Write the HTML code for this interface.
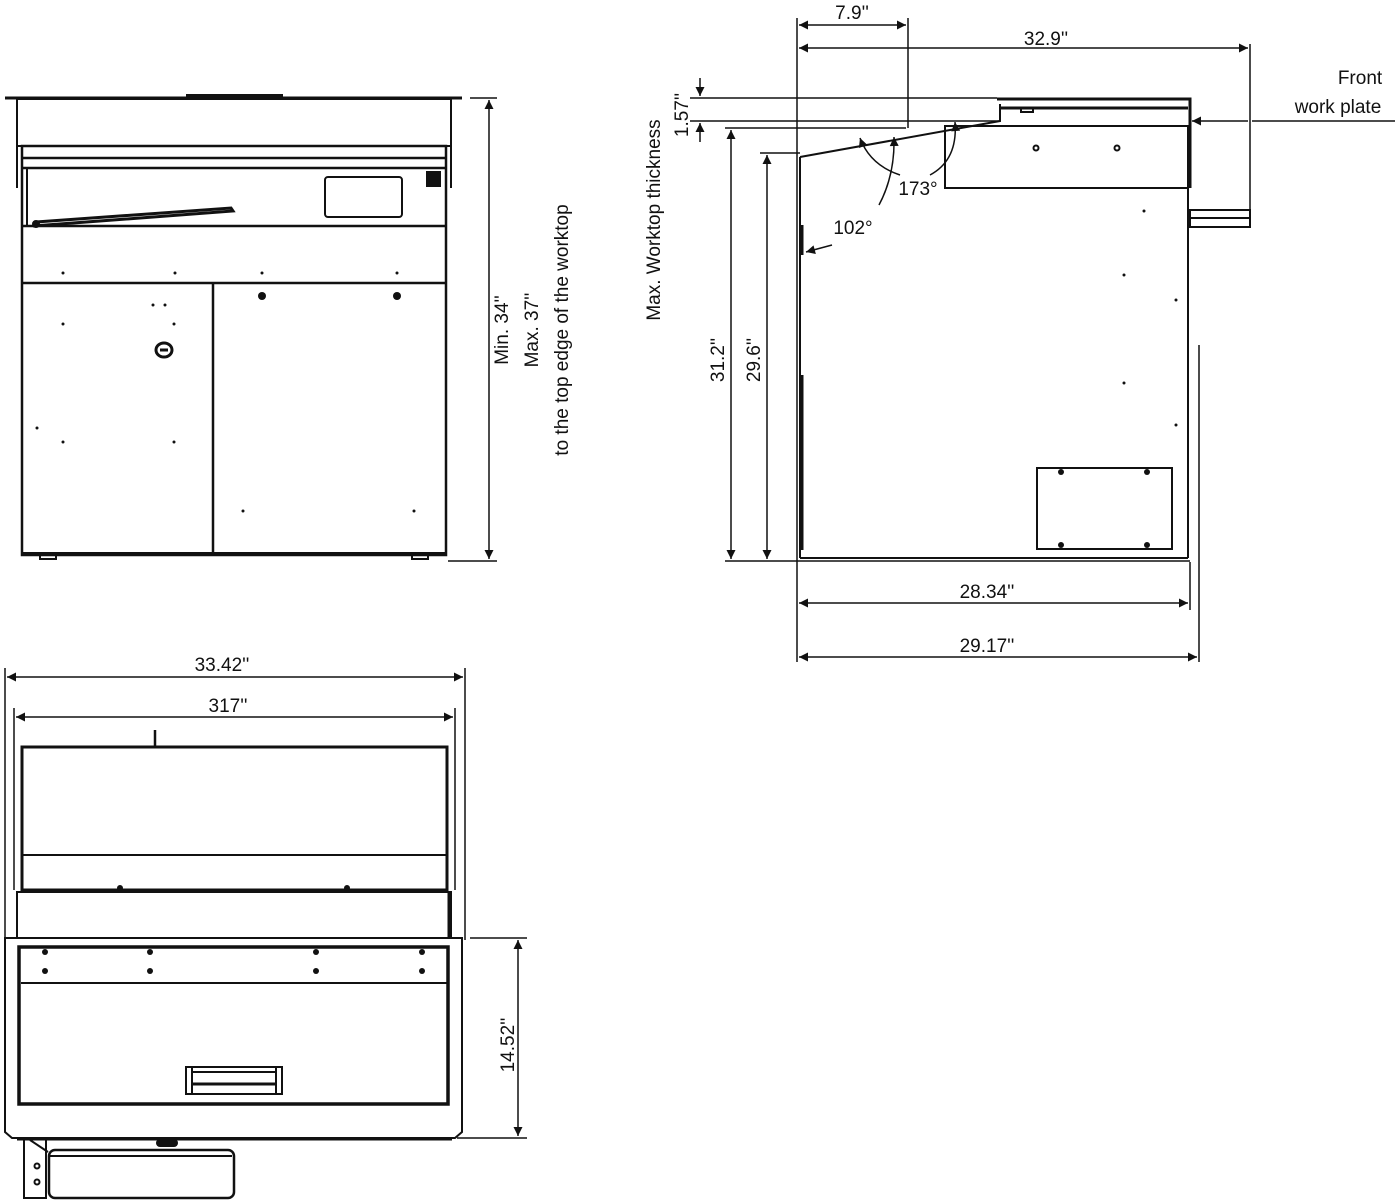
<!DOCTYPE html>
<html><head><meta charset="utf-8"><style>
html,body{margin:0;padding:0;background:#fff}
svg{display:block}
text{font-family:"Liberation Sans",sans-serif;font-size:19px;fill:#111}
</style></head><body>
<svg width="1395" height="1200" viewBox="0 0 1395 1200" xmlns="http://www.w3.org/2000/svg">
<defs>
<marker id="a" viewBox="0 0 10 10" refX="10" refY="5" markerWidth="16" markerHeight="9" markerUnits="userSpaceOnUse" orient="auto-start-reverse"><path d="M0,0 L10,5 L0,10z" fill="#111"/></marker>
</defs>
<g stroke="#111" fill="none" stroke-width="2">
<!-- FRONT VIEW -->
<line x1="5" y1="98" x2="462" y2="98" stroke-width="3"/>
<rect x="187" y="95" width="95" height="3" fill="#111"/>
<rect x="17" y="99" width="434" height="47"/>
<line x1="17" y1="146" x2="17" y2="188"/><line x1="451" y1="146" x2="451" y2="188"/>
<rect x="22" y="146" width="424" height="409" stroke-width="2.5"/>
<line x1="22" y1="158" x2="446" y2="158" stroke-width="2.5"/>
<line x1="22" y1="168" x2="446" y2="168" stroke-width="2.5"/>
<line x1="27" y1="168" x2="27" y2="226"/>
<rect x="325" y="177" width="77" height="40" rx="3"/>
<rect x="427" y="172" width="13" height="14" fill="#111"/>
<path d="M33,226 L233,211 L231,208 L36,222" stroke-width="3"/>
<circle cx="36" cy="224" r="3" fill="#111"/>
<line x1="22" y1="226" x2="446" y2="226" stroke-width="2.5"/>
<line x1="22" y1="283" x2="446" y2="283" stroke-width="2.5"/>
<line x1="213" y1="283" x2="213" y2="555" stroke-width="2.5"/>
<line x1="22" y1="553" x2="446" y2="553"/>
<rect x="40" y="555" width="16" height="4"/><rect x="412" y="555" width="16" height="4"/>
<line x1="470" y1="98" x2="497" y2="98" stroke-width="1.5"/>
<line x1="448" y1="561" x2="497" y2="561" stroke-width="1.5"/>
<line x1="489" y1="100" x2="489" y2="559" stroke-width="1.5" marker-start="url(#a)" marker-end="url(#a)"/>

<!-- SIDE VIEW -->
<line x1="797" y1="18" x2="797" y2="662" stroke-width="1.5"/>
<line x1="908" y1="18" x2="908" y2="128" stroke-width="1.5"/>
<line x1="1250" y1="44" x2="1250" y2="216" stroke-width="1.5"/>
<line x1="799" y1="25" x2="906" y2="25" stroke-width="1.5" marker-start="url(#a)" marker-end="url(#a)"/>
<line x1="799" y1="48" x2="1248" y2="48" stroke-width="1.5" marker-start="url(#a)" marker-end="url(#a)"/>
<line x1="690" y1="98" x2="997" y2="98" stroke-width="1.5"/>
<line x1="690" y1="121" x2="1000" y2="121" stroke-width="1.5"/>
<line x1="725" y1="128" x2="906" y2="128" stroke-width="1.5"/>
<line x1="760" y1="153" x2="800" y2="153" stroke-width="1.5"/>
<line x1="700" y1="78" x2="700" y2="96" stroke-width="1.5" marker-end="url(#a)"/>
<line x1="700" y1="142" x2="700" y2="123" stroke-width="1.5" marker-end="url(#a)"/>
<line x1="731" y1="130" x2="731" y2="559" stroke-width="1.5" marker-start="url(#a)" marker-end="url(#a)"/>
<line x1="767" y1="155" x2="767" y2="559" stroke-width="1.5" marker-start="url(#a)" marker-end="url(#a)"/>
<line x1="725" y1="561" x2="1190" y2="561" stroke-width="1.5"/>
<path d="M800,157 L1000,121 L1000,104"/>
<path d="M997,99 L1190,99 L1190,188" stroke-width="3"/>
<line x1="1000" y1="108" x2="1188" y2="108" stroke-width="3"/>
<rect x="1021" y="108" width="12" height="4"/>
<rect x="945" y="126" width="243" height="62"/>
<circle cx="1036" cy="148" r="2.5"/><circle cx="1117" cy="148" r="2.5"/>
<line x1="800" y1="157" x2="800" y2="558"/>
<line x1="802" y1="225" x2="802" y2="255" stroke-width="3"/>
<line x1="802" y1="375" x2="802" y2="550" stroke-width="3"/>
<line x1="1188" y1="188" x2="1188" y2="558"/>
<line x1="800" y1="558" x2="1188" y2="558"/>
<rect x="1190" y="210" width="60" height="17"/>
<line x1="1190" y1="218" x2="1250" y2="218"/>
<rect x="1037" y="468" width="135" height="81"/>
<line x1="1248" y1="121" x2="1192" y2="121" stroke-width="1.5" marker-end="url(#a)"/>
<line x1="1252" y1="121" x2="1395" y2="121" stroke-width="1.5"/>
<line x1="1190" y1="562" x2="1190" y2="610" stroke-width="1.5"/>
<line x1="1199" y1="345" x2="1199" y2="662" stroke-width="1.5"/>
<line x1="799" y1="603" x2="1188" y2="603" stroke-width="1.5" marker-start="url(#a)" marker-end="url(#a)"/>
<line x1="799" y1="657" x2="1197" y2="657" stroke-width="1.5" marker-start="url(#a)" marker-end="url(#a)"/>
<path d="M900,175 Q870,165 860,138" stroke-width="1.5" marker-end="url(#a)"/>
<path d="M879,205 Q895,175 894,137" stroke-width="1.5" marker-end="url(#a)"/>
<path d="M930,175 Q958,160 955,122" stroke-width="1.5" marker-end="url(#a)"/>
<line x1="832" y1="245" x2="806" y2="252" stroke-width="1.5" marker-end="url(#a)"/>

<!-- TOP VIEW -->
<line x1="5" y1="668" x2="5" y2="940" stroke-width="1.5"/>
<line x1="465" y1="668" x2="465" y2="940" stroke-width="1.5"/>
<line x1="7" y1="677" x2="463" y2="677" stroke-width="1.5" marker-start="url(#a)" marker-end="url(#a)"/>
<line x1="14" y1="708" x2="14" y2="890" stroke-width="1.5"/>
<line x1="455" y1="708" x2="455" y2="890" stroke-width="1.5"/>
<line x1="16" y1="717" x2="453" y2="717" stroke-width="1.5" marker-start="url(#a)" marker-end="url(#a)"/>
<rect x="22" y="747" width="425" height="143" stroke-width="3"/>
<line x1="22" y1="855" x2="447" y2="855"/>
<line x1="155" y1="730" x2="155" y2="746" stroke-width="2.5"/>
<rect x="17" y="892" width="434" height="46"/>
<line x1="449" y1="892" x2="449" y2="938" stroke-width="3"/>
<path d="M5,938 L462,938 L462,1132 L455,1138 L12,1138 L5,1132 Z"/>
<rect x="19" y="947" width="429" height="157" stroke-width="3.5"/>
<line x1="21" y1="983" x2="447" y2="983" stroke-width="2"/>
<rect x="186" y="1067" width="96" height="27"/>
<line x1="192" y1="1072" x2="276" y2="1072"/><line x1="192" y1="1084" x2="276" y2="1084" stroke-width="3"/>
<line x1="192" y1="1067" x2="192" y2="1094"/><line x1="276" y1="1067" x2="276" y2="1094"/>
<line x1="17" y1="1139" x2="452" y2="1139" stroke-width="3"/>
<line x1="470" y1="938" x2="527" y2="938" stroke-width="1.5"/>
<line x1="457" y1="1138" x2="527" y2="1138" stroke-width="1.5"/>
<line x1="518" y1="940" x2="518" y2="1136" stroke-width="1.5" marker-start="url(#a)" marker-end="url(#a)"/>
<rect x="157" y="1140" width="20" height="6" rx="3" fill="#111"/>
<rect x="24" y="1139" width="22" height="59"/>
<path d="M30,1140 L48,1152"/>
<rect x="49" y="1150" width="185" height="48" rx="6" stroke-width="2.5"/>
<line x1="50" y1="1156" x2="232" y2="1156"/>
<circle cx="37" cy="1166" r="2.5"/><circle cx="37" cy="1182" r="2.5"/>
</g>
<g fill="#111">
<circle cx="63" cy="273" r="1.5"/><circle cx="175" cy="273" r="1.5"/><circle cx="262" cy="273" r="1.5"/><circle cx="397" cy="273" r="1.5"/>
<circle cx="262" cy="296" r="4"/><circle cx="397" cy="296" r="4"/>
<circle cx="153" cy="305" r="1.5"/><circle cx="165" cy="305" r="1.5"/>
<circle cx="63" cy="324" r="1.5"/><circle cx="174" cy="324" r="1.5"/>
<circle cx="37" cy="428" r="1.5"/><circle cx="63" cy="442" r="1.5"/><circle cx="174" cy="442" r="1.5"/>
<circle cx="243" cy="511" r="1.5"/><circle cx="414" cy="511" r="1.5"/>
<circle cx="1144" cy="211" r="1.5"/><circle cx="1124" cy="275" r="1.5"/><circle cx="1176" cy="300" r="1.5"/><circle cx="1124" cy="383" r="1.5"/><circle cx="1176" cy="425" r="1.5"/>
<circle cx="1061" cy="472" r="3"/><circle cx="1147" cy="472" r="3"/><circle cx="1061" cy="545" r="3"/><circle cx="1147" cy="545" r="3"/>
<circle cx="120" cy="888" r="3"/><circle cx="347" cy="888" r="3"/>
<circle cx="45" cy="952" r="3"/><circle cx="150" cy="952" r="3"/><circle cx="316" cy="952" r="3"/><circle cx="422" cy="952" r="3"/>
<circle cx="45" cy="971" r="3"/><circle cx="150" cy="971" r="3"/><circle cx="316" cy="971" r="3"/><circle cx="422" cy="971" r="3"/>
</g>
<path d="M156,350 a8,7 0 1,0 16,0 a8,7 0 1,0 -16,0" stroke="#111" stroke-width="3" fill="none"/>
<line x1="160" y1="350" x2="168" y2="350" stroke="#111" stroke-width="3"/>

<text x="508" y="330" transform="rotate(-90 508 330)" text-anchor="middle">Min. 34''</text>
<text x="538" y="330" transform="rotate(-90 538 330)" text-anchor="middle">Max. 37''</text>
<text x="568" y="330" transform="rotate(-90 568 330)" text-anchor="middle">to the top edge of the worktop</text>
<text x="852" y="19" text-anchor="middle">7.9''</text>
<text x="1046" y="45" text-anchor="middle">32.9''</text>
<text x="1360" y="84" text-anchor="middle">Front</text>
<text x="1338" y="113" text-anchor="middle">work plate</text>
<text x="660" y="220" transform="rotate(-90 660 220)" text-anchor="middle">Max. Worktop thickness</text>
<text x="688" y="115" transform="rotate(-90 688 115)" text-anchor="middle">1.57''</text>
<text x="724" y="360" transform="rotate(-90 724 360)" text-anchor="middle">31.2''</text>
<text x="760" y="360" transform="rotate(-90 760 360)" text-anchor="middle">29.6''</text>
<text x="853" y="234" text-anchor="middle">102°</text>
<text x="918" y="195" text-anchor="middle">173°</text>
<text x="987" y="598" text-anchor="middle">28.34''</text>
<text x="987" y="652" text-anchor="middle">29.17''</text>
<text x="222" y="671" text-anchor="middle">33.42''</text>
<text x="228" y="712" text-anchor="middle">317''</text>
<text x="514" y="1045" transform="rotate(-90 514 1045)" text-anchor="middle">14.52''</text>
</svg>
</body></html>
